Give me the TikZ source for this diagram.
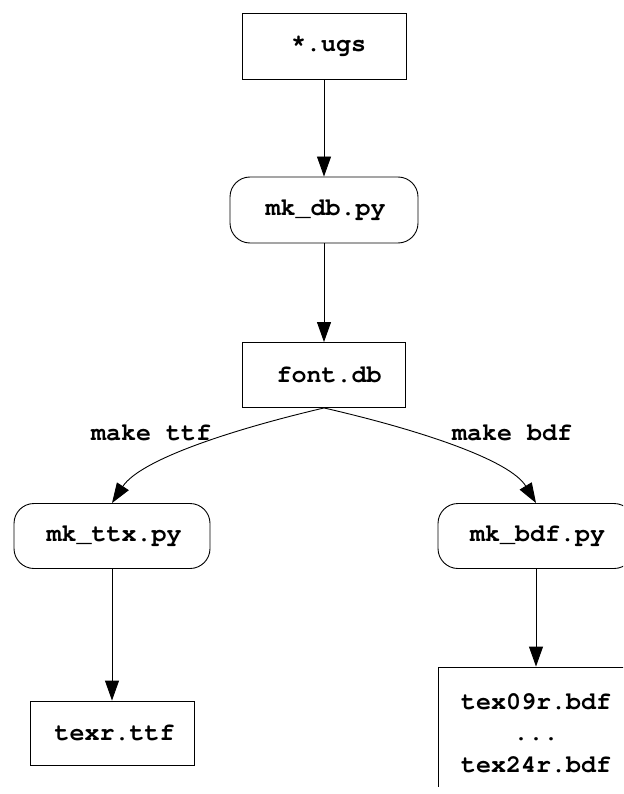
\documentclass[tikz,border=0pt]{standalone}
\usepackage{fontspec}
\setmonofont{TeX Gyre Cursor}
\usetikzlibrary{arrows.meta}
\begin{document}
\begin{tikzpicture}[x=1pt,y=-1pt,
  every node/.style={font=\ttfamily\bfseries\fontsize{25}{31.5}\selectfont, inner sep=0pt},
  filebox/.style={draw, line width=0.9pt},
  procbox/.style={draw, line width=0.9pt, rounded corners=20pt},
  nudge/.style={execute at begin node={\hspace*{#1}}},
  flow/.style={-{Triangle[length=20pt,width=14pt]}, line width=0.9pt}]
\useasboundingbox (0,0) rectangle (623,794);
\fill[white] (0,0) rectangle (623,794);

% main chain
\node[filebox, nudge=9pt, minimum width=164pt, minimum height=66pt] (ugs) at (324,46) {*.ugs};
\node[procbox, nudge=3pt, minimum width=188pt, minimum height=66pt] (mkdb) at (324,210) {mk\_db.py};
\node[filebox, nudge=10pt, minimum width=163pt, minimum height=65pt] (fontdb) at (324,375) {font.db};

% left branch
\node[procbox, nudge=4pt, minimum width=196pt, minimum height=65pt] (mkttx) at (112,536) {mk\_ttx.py};
\node[filebox, nudge=5pt, minimum width=164pt, minimum height=64pt] (ttf) at (112,733) {texr.ttf};

% right branch, running past the page edge
\begin{scope}
  \clip (0,0) rectangle (623,786);
  \node[procbox, nudge=3pt, minimum width=196pt, minimum height=65pt] (mkbdf) at (536,536) {mk\_bdf.py};
  \node[filebox, minimum width=196pt, minimum height=132pt, align=center] (bdf) at (536,733)
    {tex09r.bdf\\...\\tex24r.bdf};
\end{scope}

% connectors
\draw[flow] (ugs) -- (mkdb);
\draw[flow] (mkdb) -- (fontdb);
\draw[flow] (fontdb.south) .. controls (230,430) and (140,460) .. (mkttx.north);
\draw[flow] (fontdb.south) .. controls (420,430) and (510,460) .. (mkbdf.north);
\draw[flow] (mkttx) -- (ttf);
\draw[flow] (mkbdf) -- (bdf);

% branch labels
\node (lttf) at (151,433) {make ttf};
\node (lbdf) at (512,433) {make bdf};
\end{tikzpicture}
\end{document}
